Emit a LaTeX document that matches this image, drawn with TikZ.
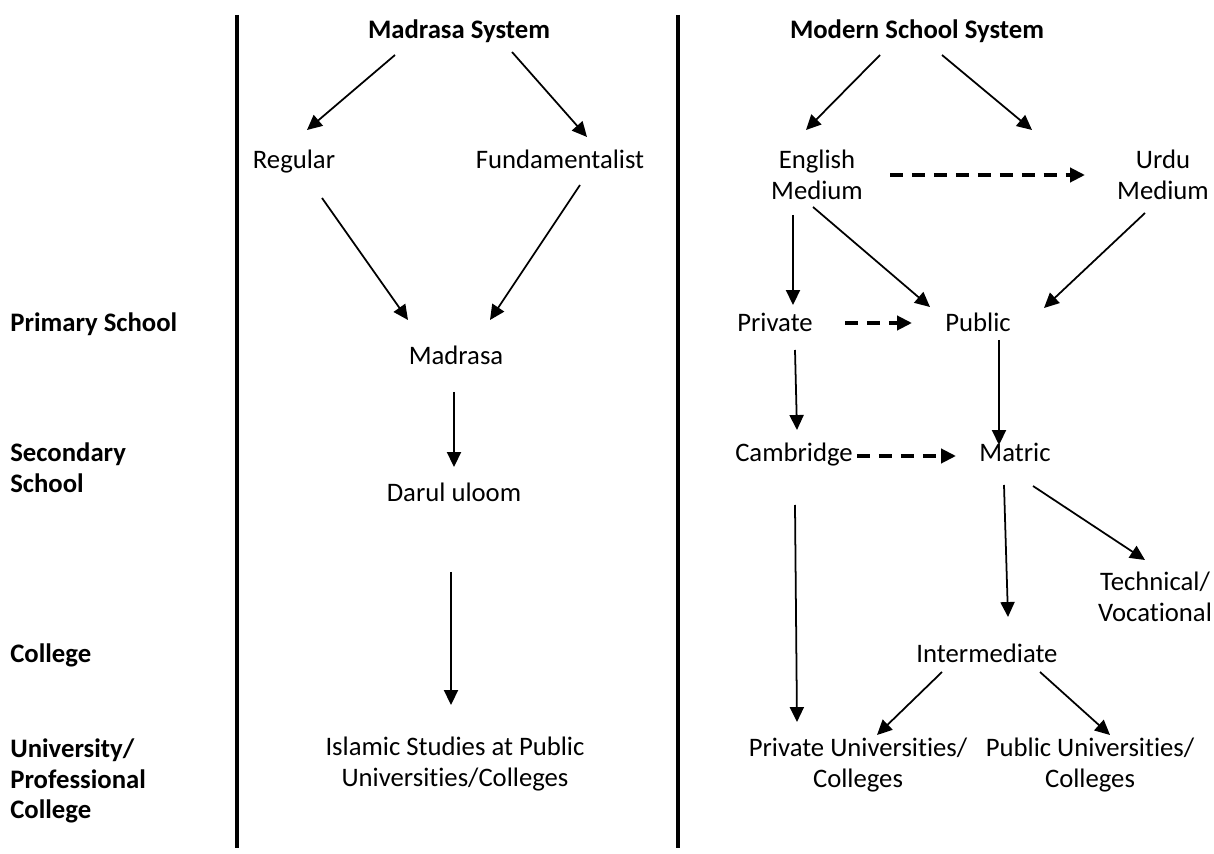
\documentclass[tikz,border=0pt]{standalone}
\usepackage{fontspec}
\setmainfont{Carlito}[Ligatures=NoCommon]
\usepackage{tikz}
\usetikzlibrary{arrows.meta,calc}

\begin{document}
\begin{tikzpicture}[x=0.02cm,y=-0.02cm,font=\fontsize{15.2}{17.4}\selectfont,
  >={Triangle[length=8.5pt,width=8pt]},
  lvl/.style={anchor=west,align=left,inner sep=0pt,font=\fontsize{15.2}{17.4}\selectfont\bfseries},
  box/.style={align=center,inner sep=0pt},
  one/.style={box,text height=9.7pt,text depth=0pt},
  arr/.style={->,line width=1pt},
  darr/.style={->,line width=2.1pt,dash pattern=on 7.5pt off 5pt}]
  \useasboundingbox (0,0) rectangle (1214,854);
  % separators
  \draw[line width=2.4pt] (237,15) -- (237,848);
  \draw[line width=2.4pt] (678,15) -- (678,848);
  % level labels
  \node[lvl,text height=9.7pt,text depth=0pt] (primary) at (10,323) {Primary School};
  \node[lvl] (secondary) at (10,468) {Secondary\\School};
  \node[lvl,text height=9.7pt,text depth=0pt] (college) at (10,654) {College};
  \node[lvl] (univ) at (10,781) {University/\\Professional\\College};
  % madrasa side
  \node[one,font=\fontsize{15.2}{17.4}\selectfont\bfseries] (msys) at (459,30) {Madrasa System};
  \node[one] (reg) at (294,160) {Regular};
  \node[one] (fund) at (560,160) {Fundamentalist};
  \node[one] (mad) at (456,356) {Madrasa};
  \node[one] (darul) at (454,493) {Darul uloom};
  \node[box] (islam) at (455,764) {Islamic Studies at Public\\Universities/Colleges};
  % modern side
  \node[one,font=\fontsize{15.2}{17.4}\selectfont\bfseries] (mod) at (917,30) {Modern School System};
  \node[box] (eng) at (817,175) {English\\Medium};
  \node[box] (urdu) at (1163,175) {Urdu\\Medium};
  \node[one] (priv) at (775,323) {Private};
  \node[one] (pub) at (978,323) {Public};
  \node[one] (camb) at (794,453) {Cambridge};
  \node[one] (matric) at (1015,453) {Matric};
  \node[box] (tech) at (1155,597) {Technical/\\Vocational};
  \node[one] (inter) at (987,654) {Intermediate};
  \node[box] (pvtu) at (858,765) {Private Universities/\\Colleges};
  \node[box] (pubu) at (1090,765) {Public Universities/\\Colleges};
  % connectors, madrasa
  \draw[arr] ($(msys)+(-64,25)$) -- ($(reg)+(13,-30)$);
  \draw[arr] ($(msys)+(53,22)$) -- ($(fund)+(27,-23)$);
  \draw[arr] ($(reg)+(28,38)$) -- ($(mad)+(-48,-36)$);
  \draw[arr] ($(fund)+(20,25)$) -- ($(mad)+(34,-36)$);
  \draw[arr] ($(mad)+(-2,36)$) -- ($(darul)+(0,-26)$);
  \draw[arr] ($(darul)+(-3,79)$) -- ($(islam)+(-4,-59)$);
  % connectors, modern
  \draw[arr] ($(mod)+(-37,25)$) -- ($(eng)+(-11,-45)$);
  \draw[arr] ($(mod)+(25,25)$) -- ($(urdu)+(-131,-45)$);
  \draw[darr] ($(eng)+(73,0)$) -- ($(urdu)+(-78,0)$);
  \draw[arr] ($(eng)+(-24,40)$) -- ($(priv)+(18,-18)$);
  \draw[arr] ($(eng)+(-4,32)$) -- ($(pub)+(-48,-16)$);
  \draw[arr] ($(urdu)+(-18,38)$) -- ($(pub)+(66,-15)$);
  \draw[darr] ($(priv)+(70,0)$) -- ($(pub)+(-66,0)$);
  \draw[arr] ($(priv)+(20,27)$) -- ($(camb)+(3,-23)$);
  \draw[arr] ($(pub)+(21,17)$) -- ($(matric)+(-16,-8)$);
  \draw[darr] ($(camb)+(63,3)$) -- ($(matric)+(-59,3)$);
  \draw[arr] ($(camb)+(1,52)$) -- ($(pvtu)+(-61,-43)$);
  \draw[arr] ($(matric)+(-11,32)$) -- ($(inter)+(21,-37)$);
  \draw[arr] ($(matric)+(18,33)$) -- ($(tech)+(-10,-37)$);
  \draw[arr] ($(inter)+(-45,18)$) -- ($(pvtu)+(19,-30)$);
  \draw[arr] ($(inter)+(53,18)$) -- ($(pubu)+(20,-30)$);
\end{tikzpicture}
\end{document}
